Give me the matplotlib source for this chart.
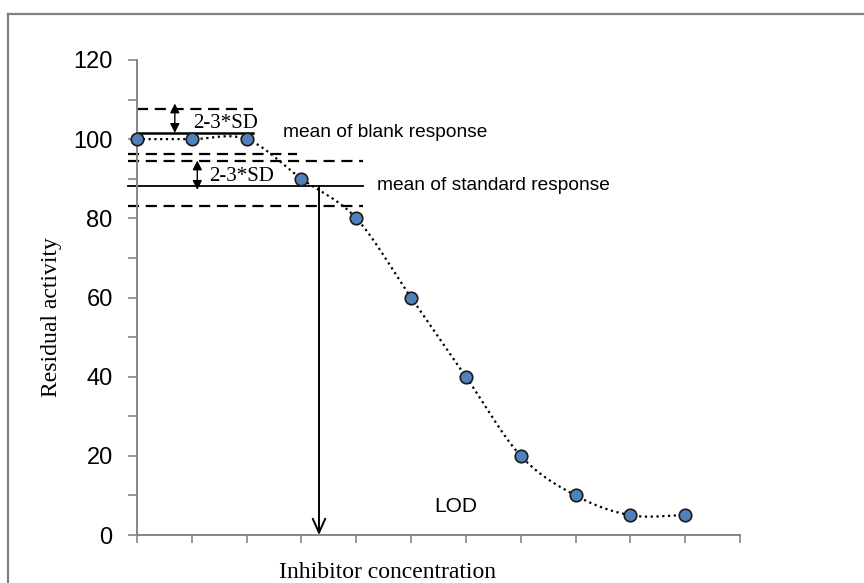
import numpy as np
import matplotlib.pyplot as plt
from matplotlib.lines import Line2D

# data
conc = [0, 1, 2, 3, 4, 5, 6, 7, 8, 9, 10]
activity = [100, 100, 100, 90, 80, 60, 40, 20, 10, 5, 5]

blank_mean = 101.6
blank_upper = 107.7
blank_lower = 96.2
std_upper = 94.6
std_mean = 88.2
std_lower = 83.2
lod_x = 3.32


def catmull_rom(x, y, n=30):
    # smooth line through the points, like the spreadsheet "smoothed line"
    x = np.asarray(x, float)
    y = np.asarray(y, float)
    px = np.concatenate([[2 * x[0] - x[1]], x, [2 * x[-1] - x[-2]]])
    py = np.concatenate([[2 * y[0] - y[1]], y, [2 * y[-1] - y[-2]]])
    xs, ys = [], []
    t = np.linspace(0, 1, n)
    for i in range(1, len(px) - 2):
        for p, out in ((px, xs), (py, ys)):
            p0, p1, p2, p3 = p[i - 1], p[i], p[i + 1], p[i + 2]
            out.append(0.5 * (2 * p1 + (-p0 + p2) * t
                              + (2 * p0 - 5 * p1 + 4 * p2 - p3) * t ** 2
                              + (-p0 + 3 * p1 - 3 * p2 + p3) * t ** 3))
    return np.concatenate(xs), np.concatenate(ys)


fig = plt.figure(figsize=(8.64, 5.83), dpi=100)
ax = fig.add_axes([137 / 864, 1 - 535 / 583, 603 / 864, 475 / 583])

sx, sy = catmull_rom(conc, activity)
ax.plot(sx, sy, color='black', linestyle=(0, (1, 1.6)), linewidth=1.6, zorder=3)
ax.plot(conc, activity, linestyle='none', marker='o', markersize=9,
        markerfacecolor='#4F81BD', markeredgecolor='#1a1a1a',
        markeredgewidth=1.2, zorder=4, clip_on=False)

dash = (0, (5, 3))
ax.plot([0, 2.12], [blank_upper, blank_upper], color='black', lw=1.6, ls=dash)
ax.plot([0, 2.12], [blank_mean, blank_mean], color='black', lw=1.8)
ax.plot([-0.16, 2.92], [blank_lower, blank_lower], color='black', lw=1.6, ls=dash, clip_on=False)
ax.plot([-0.16, 4.12], [std_upper, std_upper], color='black', lw=1.6, ls=dash, clip_on=False)
ax.plot([-0.16, 4.12], [std_mean, std_mean], color='black', lw=1.3, clip_on=False)
ax.plot([-0.16, 4.12], [std_lower, std_lower], color='black', lw=1.6, ls=dash, clip_on=False)

ax.annotate('', xy=(lod_x, 0), xytext=(lod_x, std_mean),
            arrowprops=dict(arrowstyle='->,head_length=1.0,head_width=0.45',
                            color='black', lw=1.4, shrinkA=0, shrinkB=0))
ax.annotate('', xy=(0.69, 109), xytext=(0.69, blank_mean),
            arrowprops=dict(arrowstyle='<|-|>,head_length=0.55,head_width=0.28',
                            color='black', lw=1.0, shrinkA=0, shrinkB=0))
ax.annotate('', xy=(1.1, std_upper), xytext=(1.1, 87.2),
            arrowprops=dict(arrowstyle='<|-|>,head_length=0.55,head_width=0.28',
                            color='black', lw=1.0, shrinkA=0, shrinkB=0))

serif = 'Liberation Serif'
sans = 'Liberation Sans'
ax.text(1.02, 104.0, '2-3*SD', family=serif, fontsize=15, va='center')
ax.text(1.32, 90.5, '2-3*SD', family=serif, fontsize=15, va='center')
ax.text(2.66, 101.8, 'mean of blank response', family=sans, fontsize=13.8, va='center')
ax.text(4.38, 88.2, 'mean of standard response', family=sans, fontsize=13.8, va='center')
ax.text(5.43, 7.3, 'LOD', family=sans, fontsize=15, va='center')

ax.set_xlim(0, 11)
ax.set_ylim(0, 120)
ax.set_xticks(range(12))
ax.set_xticklabels([])
ax.set_yticks(range(0, 121, 20))
ax.set_yticks(range(10, 121, 20), minor=True)
for lab in ax.get_yticklabels():
    lab.set_family(sans)
    lab.set_fontsize(17)
ax.tick_params(axis='both', which='both', direction='out', length=6,
               color='#868686', width=1.2)
ax.tick_params(axis='y', which='both', length=6.5, pad=11)
for s in ['top', 'right']:
    ax.spines[s].set_visible(False)
for s in ['left', 'bottom']:
    ax.spines[s].set_color('#868686')
    ax.spines[s].set_linewidth(1.4)

ax.set_ylabel('Residual activity', family=serif, fontsize=17)
ax.yaxis.set_label_coords(-0.124, 0.459)
ax.set_xlabel('Inhibitor concentration', family=serif, fontsize=17)
ax.xaxis.set_label_coords(0.416, -0.056)

# outer frame of the original chart area
fig.add_artist(Line2D([8 / 864, 1], [1 - 14 / 583, 1 - 14 / 583],
                      transform=fig.transFigure, color='#7f7f7f', lw=1.6))
fig.add_artist(Line2D([8 / 864, 8 / 864], [0, 1 - 14 / 583],
                      transform=fig.transFigure, color='#7f7f7f', lw=1.6))

fig.savefig('out.png', dpi=100)
